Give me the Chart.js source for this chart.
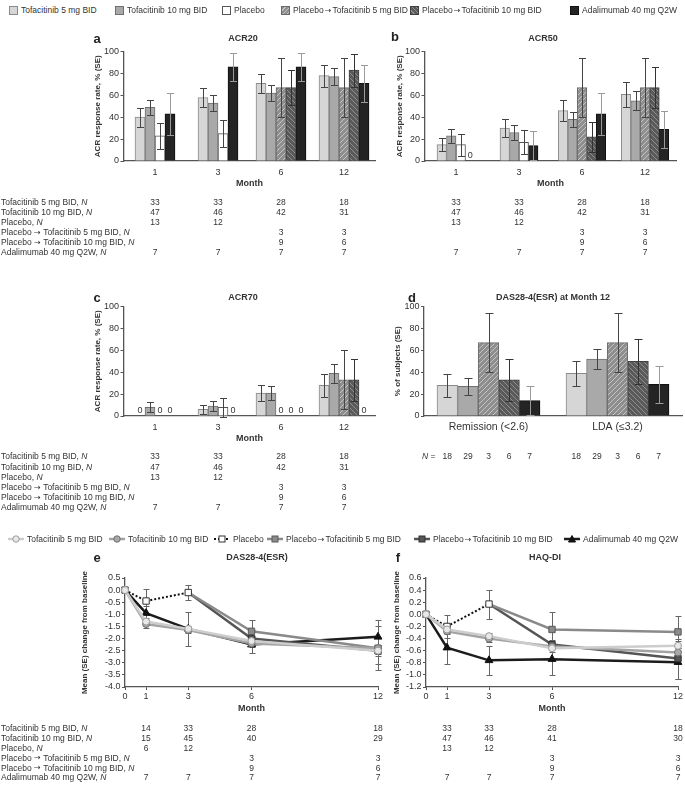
<!DOCTYPE html>
<html>
<head>
<meta charset="utf-8">
<title>Tofacitinib / adalimumab responses</title>
<script src="https://cdn.jsdelivr.net/npm/chart.js@4.4.1/dist/chart.umd.min.js"></script>
<style>
  body { margin: 0; background: #fff; }
  #page { position: relative; width: 685px; height: 786px; overflow: hidden;
          font-family: "Liberation Sans", Arial, sans-serif; color: #333; }
  canvas { position: absolute; }
  .ttl { position: absolute; font-size: 9px; font-weight: bold; white-space: nowrap; transform: translate(-50%, -50%); }
  .let { position: absolute; font-size: 13px; font-weight: bold; color: #222; transform: translate(-50%, -50%); }
  .leg { position: absolute; font-size: 8.5px; white-space: nowrap; display: flex; align-items: center; transform: translateY(-50%); }
  .sw { width: 9px; height: 9px; border: 1px solid #777; margin-right: 3px; box-sizing: border-box; }
  .leg svg { margin-right: 3px; }
  .arr { font-family: "DejaVu Sans", sans-serif; font-size: 8px; padding: 0 1px; }
</style>
</head>
<body>
<div id="page">
  <canvas id="cA" width="385" height="235" style="left:0;top:28px"></canvas>
  <canvas id="cB" width="300" height="235" style="left:385px;top:28px"></canvas>
  <canvas id="cC" width="385" height="235" style="left:0;top:283px"></canvas>
  <canvas id="cD" width="300" height="235" style="left:385px;top:283px"></canvas>
  <canvas id="cE" width="385" height="241" style="left:0;top:545px"></canvas>
  <canvas id="cF" width="300" height="241" style="left:385px;top:545px"></canvas>
</div>
<script>
// ---- data -------------------------------------------------------------
const groups = ["Tofacitinib 5 mg BID", "Tofacitinib 10 mg BID", "Placebo",
  "Placebo \u2192 Tofacitinib 5 mg BID", "Placebo \u2192 Tofacitinib 10 mg BID", "Adalimumab 40 mg Q2W"];

const acrMonths = ["1", "3", "6", "12"];

// ACR response rate %, one row per group (tof5, tof10, placebo, pbo->5, pbo->10, ada)
const acr20 = [[40, 58, 71, 78], [49, 53, 62, 77], [23, 25, null, null],
  [null, null, 67, 67], [null, null, 67, 83], [43, 86, 86, 71]];
const acr20Se = [[8.5, 8.5, 8.5, 10], [7, 7.5, 7, 7.5], [12, 12.5, null, null],
  [null, null, 27, 27], [null, null, 16, 15], [19, 13, 13, 17]];

const acr50 = [[15, 30, 46, 61], [23, 26, 38, 55], [15, 17, null, null],
  [null, null, 67, 67], [null, null, 22, 67], [0, 14, 43, 29]];
const acr50Se = [[6, 8, 9.5, 11.5], [6.5, 6.5, 7, 8.5], [10, 11, null, null],
  [null, null, 27, 27], [null, null, 14, 19], [0, 13.5, 19, 17]];

const acr70 = [[0, 6, 21, 28], [8, 9, 21, 39], [0, 8, null, null],
  [null, null, 0, 33], [null, null, 0, 33], [0, 0, 0, 0]];
const acr70Se = [[0, 4, 7.5, 10.5], [4.5, 4.5, 6.5, 8.5], [0, 8.5, null, null],
  [null, null, 0, 27], [null, null, 0, 19.5], [0, 0, 0, 0]];

const acrN = [[33, 33, 28, 18], [47, 46, 42, 31], [13, 12, null, null],
  [null, null, 3, 3], [null, null, 9, 6], [7, 7, 7, 7]];

// DAS28-4(ESR) at month 12 (tof5, tof10, pbo->5, pbo->10, ada)
const dasCats = ["Remission (<2.6)", "LDA (\u22643.2)"];
const dasM12Groups = [0, 1, 3, 4, 5];
const dasM12 = [[28, 39], [27, 52], [67, 67], [33, 50], [14, 29]];
const dasM12Se = [[10.5, 11.5], [8, 9], [27, 27], [19.5, 20.5], [13.5, 17]];
const dasM12N = [18, 29, 3, 6, 7];

// change from baseline over time
const lineMonths = [0, 1, 3, 6, 12];
const nMonths = [1, 3, 6, 12];

const das = [[0, -1.3, -1.6, -2.1, -2.5], [0, -1.4, -1.65, -2.2, -2.4], [0, -0.45, -0.1, null, null],
  [null, null, -0.1, -1.7, -2.4], [null, null, -0.1, -2.0, -2.5], [0, -0.95, -1.6, -2.25, -1.93]];
const dasSe = [[0, 0.15, 0.12, 0.15, 0.2], [0, 0.15, 0.1, 0.12, 0.15], [0, 0.5, 0.32, null, null],
  [null, null, 0, 0.45, 0.9], [null, null, 0, 0.35, 0.55], [0, 0.3, 0.7, 0.35, 0.7]];
const dasN = [[14, 33, 28, 18], [15, 45, 40, 29], [6, 12, null, null],
  [null, null, 3, 3], [null, null, 9, 6], [7, 7, 7, 7]];

const haq = [[0, -0.25, -0.36, -0.56, -0.52], [0, -0.28, -0.4, -0.53, -0.63], [0, -0.2, 0.17, null, null],
  [null, null, 0.17, -0.25, -0.29], [null, null, 0.17, -0.5, -0.73], [0, -0.55, -0.76, -0.74, -0.79]];
const haqSe = [[0, 0.05, 0.05, 0.06, 0.08], [0, 0.05, 0.05, 0.05, 0.07], [0, 0.19, 0.24, null, null],
  [null, null, 0, 0.29, 0.26], [null, null, 0, 0.07, 0.33], [0, 0.27, 0.24, 0.27, 0.28]];
const haqN = [[33, 33, 28, 18], [47, 46, 41, 30], [13, 12, null, null],
  [null, null, 3, 3], [null, null, 9, 6], [7, 7, 7, 7]];

// ---- styles -----------------------------------------------------------
const FONT = '"Liberation Sans", Arial, sans-serif';
const ARROW_FONT = '"DejaVu Sans", sans-serif';
Chart.defaults.font.family = FONT;
Chart.defaults.font.size = 9;
Chart.defaults.color = '#333';
Chart.defaults.animation = false;

const barStyle = [
  { fill: '#d6d6d6', border: '#8a8a8a', err: '#444' },
  { fill: '#a9a9a9', border: '#707070', err: '#444' },
  { fill: '#ffffff', border: '#555555', err: '#444' },
  { hatch: ['#8e8e8e', '#c4c4c4', 1], border: '#6a6a6a', err: '#444' },
  { hatch: ['#5a5a5a', '#8e8e8e', -1], border: '#404040', err: '#333' },
  { fill: '#242424', border: '#111111', err: '#9a9a9a' }
];

const lineStyle = [
  { color: '#cdcdcd', width: 2.5, marker: 'circle', fill: '#e8e8e8', edge: '#9a9a9a', r: 3.5 },
  { color: '#a3a3a3', width: 2.5, marker: 'circle', fill: '#a8a8a8', edge: '#6e6e6e', r: 3.5 },
  { color: '#111111', width: 2, dash: [2, 2], marker: 'rect', fill: '#ffffff', edge: '#333', r: 4.5 },
  { color: '#8a8a8a', width: 2.5, marker: 'rect', fill: '#8a8a8a', edge: '#5a5a5a', r: 4.5 },
  { color: '#555555', width: 2.5, marker: 'rect', fill: '#555555', edge: '#333', r: 4.5 },
  { color: '#1c1c1c', width: 2.5, marker: 'triangle', fill: '#111111', edge: '#111', r: 4.5 }
];

function hatch(ctx, [bg, fg, dir]) {
  const c = document.createElement('canvas');
  c.width = c.height = 5;
  const x = c.getContext('2d');
  x.fillStyle = bg; x.fillRect(0, 0, 5, 5);
  x.strokeStyle = fg; x.lineWidth = 1;
  x.beginPath();
  if (dir > 0) {
    x.moveTo(0, 5); x.lineTo(5, 0); x.moveTo(-1, 1); x.lineTo(1, -1); x.moveTo(4, 6); x.lineTo(6, 4);
  } else {
    x.moveTo(0, 0); x.lineTo(5, 5); x.moveTo(-1, 4); x.lineTo(1, 6); x.moveTo(4, -1); x.lineTo(6, 1);
  }
  x.stroke();
  return ctx.createPattern(c, 'repeat');
}

// writes text left-aligned, taking the arrow from DejaVu; returns end x
function drawLabel(ctx, text, x, y, size) {
  text.split('\u2192').forEach((part, i) => {
    if (i > 0) {
      ctx.font = (size - 0.5) + 'px ' + ARROW_FONT;
      ctx.fillText('\u2192', x, y);
      x += ctx.measureText('\u2192').width;
    }
    ctx.font = size + 'px ' + FONT;
    ctx.fillText(part, x, y);
    x += ctx.measureText(part).width;
  });
  return x;
}

// ---- plugins ----------------------------------------------------------
function errorBarPlugin(hook) {
  return {
    id: 'errorBars',
    [hook](chart) {
      const ctx = chart.ctx, y = chart.scales.y;
      ctx.save();
      ctx.lineWidth = 1;
      chart.data.datasets.forEach((ds, i) => {
        if (!ds.se) return;
        chart.getDatasetMeta(i).data.forEach((el, j) => {
          const raw = ds.data[j];
          const v = raw !== null && typeof raw === 'object' ? raw.y : raw;
          const s = ds.se[j];
          if (v == null || !s) return;
          const x = Math.round(el.x) + 0.5;
          const y1 = Math.round(y.getPixelForValue(v + s)) + 0.5;
          const y2 = Math.round(y.getPixelForValue(v - s)) + 0.5;
          const c = ds.capHalf;
          ctx.strokeStyle = ds.errColor;
          ctx.beginPath();
          ctx.moveTo(x, y1); ctx.lineTo(x, y2);
          ctx.moveTo(x - c, y1); ctx.lineTo(x + c, y1);
          ctx.moveTo(x - c, y2); ctx.lineTo(x + c, y2);
          ctx.stroke();
        });
      });
      ctx.restore();
    }
  };
}

const zeroLabels = {
  id: 'zeroLabels',
  afterDatasetsDraw(chart) {
    const ctx = chart.ctx, base = chart.scales.y.getPixelForValue(0);
    ctx.save();
    ctx.fillStyle = '#333';
    ctx.font = '9px ' + FONT;
    ctx.textAlign = 'center';
    ctx.textBaseline = 'bottom';
    chart.data.datasets.forEach((ds, i) => {
      chart.getDatasetMeta(i).data.forEach((el, j) => {
        if (ds.data[j] === 0) ctx.fillText('0', el.x, base - 1);
      });
    });
    ctx.restore();
  }
};

// N table under a panel, values placed on the x scale
function nRows(rows, labels, xs, y0, dy) {
  return {
    id: 'nRows',
    afterDraw(chart) {
      const ctx = chart.ctx, sx = chart.scales.x;
      ctx.save();
      ctx.fillStyle = '#333';
      ctx.textBaseline = 'middle';
      rows.forEach((row, k) => {
        const y = y0 + k * dy;
        if (labels) {
          ctx.textAlign = 'left';
          const end = drawLabel(ctx, labels[k] + ', ', 1, y, 8.5);
          ctx.font = 'italic 8.5px ' + FONT;
          ctx.fillText('N', end, y);
        }
        ctx.font = '8.5px ' + FONT;
        ctx.textAlign = 'center';
        row.forEach((v, j) => {
          if (v != null) ctx.fillText(String(v), sx.getPixelForValue(xs[j]), y);
        });
      });
      ctx.restore();
    }
  };
}

// N row for panel d, one value under every bar
function nBars(vals, y) {
  return {
    id: 'nBars',
    afterDraw(chart) {
      const ctx = chart.ctx;
      ctx.save();
      ctx.fillStyle = '#333';
      ctx.textBaseline = 'middle';
      ctx.textAlign = 'left';
      ctx.font = 'italic 8.5px ' + FONT;
      ctx.fillText('N', 37, y);
      const w = ctx.measureText('N').width;
      ctx.font = '8.5px ' + FONT;
      ctx.fillText(' =', 37 + w, y);
      ctx.textAlign = 'center';
      chart.data.labels.forEach((_, c) => {
        vals.forEach((n, k) => ctx.fillText(String(n), chart.getDatasetMeta(k).data[c].x, y));
      });
      ctx.restore();
    }
  };
}

// ---- builders ---------------------------------------------------------
function barChart(id, labels, values, ses, idx, cfg) {
  const canvas = document.getElementById(id);
  const ctx = canvas.getContext('2d');
  const datasets = values.map((vals, k) => {
    const st = barStyle[idx[k]];
    return {
      label: groups[idx[k]],
      data: vals,
      se: ses[k],
      errColor: st.err,
      capHalf: cfg.cap,
      backgroundColor: st.hatch ? hatch(ctx, st.hatch) : st.fill,
      borderColor: st.border,
      borderWidth: 1,
      barThickness: cfg.barW,
      skipNull: true
    };
  });
  return new Chart(canvas, {
    type: 'bar',
    data: { labels, datasets },
    options: {
      responsive: false,
      layout: { padding: cfg.pad },
      plugins: { legend: { display: false }, tooltip: { enabled: false } },
      scales: {
        x: {
          grid: { display: false, drawTicks: false },
          border: { color: '#555', width: 1.3 },
          ticks: { padding: cfg.tickPad, font: { size: cfg.tickSize || 9 } },
          title: { display: !!cfg.xTitle, text: cfg.xTitle || '', font: { size: 9, weight: 'bold' }, padding: 0 },
          afterFit: s => { s.height = cfg.xH; }
        },
        y: {
          min: 0, max: 100,
          ticks: { stepSize: 20, padding: 1.5, autoSkip: false },
          grid: { drawOnChartArea: false, tickLength: 3, color: '#555' },
          border: { color: '#555', width: 1.3 },
          title: { display: true, text: cfg.yTitle, font: { size: 8, weight: 'bold' }, padding: 0 },
          afterFit: s => { s.width = cfg.yW; }
        }
      }
    },
    plugins: [errorBarPlugin('afterDatasetsDraw'), zeroLabels, cfg.table]
  });
}

function lineChart(id, values, ses, cfg) {
  const datasets = values.map((vals, k) => {
    const st = lineStyle[k];
    const first = vals.findIndex(v => v != null);
    return {
      label: groups[k],
      data: lineMonths.map((m, j) => ({ x: m, y: vals[j] })),
      se: ses[k],
      errColor: '#666',
      capHalf: 3,
      borderColor: st.color,
      borderWidth: st.width,
      borderDash: st.dash || [],
      backgroundColor: st.fill,
      pointStyle: st.marker,
      pointBackgroundColor: st.fill,
      pointBorderColor: st.edge,
      pointBorderWidth: 1,
      pointRadius: vals.map((v, j) => (k >= 3 && j === first) ? 0 : st.r),
      tension: 0,
      spanGaps: false,
      clip: false
    };
  });
  const fmt = v => (Math.abs(v) < 1e-9 ? 0 : v).toFixed(1);
  return new Chart(document.getElementById(id), {
    type: 'line',
    data: { datasets },
    options: {
      responsive: false,
      layout: { padding: cfg.pad },
      plugins: { legend: { display: false }, tooltip: { enabled: false } },
      scales: {
        x: {
          type: 'linear', min: 0, max: 12,
          afterBuildTicks: s => { s.ticks = lineMonths.map(v => ({ value: v })); },
          ticks: { padding: 1.6, autoSkip: false, maxRotation: 0, callback: v => String(v) },
          grid: { drawOnChartArea: false, tickLength: 3, color: '#555' },
          border: { color: '#555', width: 1.3 },
          title: { display: true, text: 'Month', font: { size: 9, weight: 'bold' }, padding: 0 },
          afterFit: s => { s.height = cfg.xH; }
        },
        y: {
          min: cfg.min, max: cfg.max,
          ticks: { stepSize: cfg.step, padding: 1.5, autoSkip: false, callback: v => fmt(v) },
          grid: { drawOnChartArea: false, tickLength: 3, color: '#555' },
          border: { color: '#555', width: 1.3 },
          title: { display: true, text: 'Mean (SE) change from baseline', font: { size: 8, weight: 'bold' }, padding: 0 },
          afterFit: s => { s.width = cfg.yW; }
        }
      }
    },
    plugins: [errorBarPlugin('beforeDatasetsDraw'), cfg.table]
  });
}

// ---- panels -----------------------------------------------------------
const allGroups = [0, 1, 2, 3, 4, 5];
const acrIdx = [0, 1, 2, 3];
const yAcr = 'ACR response rate, % (SE)';

barChart('cA', acrMonths, acr20, acr20Se, allGroups, {
  pad: { left: 93.2, right: 9.5, top: 23.5, bottom: 73.6 }, yW: 30.3, xH: 28.4, tickPad: 6.6,
  barW: 10, cap: 3.5, xTitle: 'Month', yTitle: yAcr,
  table: nRows(acrN, groups, acrIdx, 175, 10)
});
barChart('cB', acrMonths, acr50, acr50Se, allGroups, {
  pad: { left: 10.2, right: 8.5, top: 23.5, bottom: 73.6 }, yW: 29.3, xH: 28.4, tickPad: 6.6,
  barW: 9.5, cap: 3.5, xTitle: 'Month', yTitle: yAcr,
  table: nRows(acrN, null, acrIdx, 175, 10)
});
barChart('cC', acrMonths, acr70, acr70Se, allGroups, {
  pad: { left: 93.2, right: 9.5, top: 23.5, bottom: 73.6 }, yW: 30.3, xH: 28.4, tickPad: 6.6,
  barW: 10, cap: 3.5, xTitle: 'Month', yTitle: yAcr,
  table: nRows(acrN, groups, acrIdx, 174, 10.2)
});
barChart('cD', dasCats, dasM12, dasM12Se, dasM12Groups, {
  pad: { left: 7.9, right: 3, top: 23.5, bottom: 73.6 }, yW: 31.1, xH: 28.4, tickPad: 4.7, tickSize: 10.5,
  barW: 20.6, cap: 4, yTitle: '% of subjects (SE)',
  table: nBars(dasM12N, 174)
});
lineChart('cE', das, dasSe, {
  pad: { left: 80.2, right: 7, top: 33, bottom: 71.6 }, yW: 44.8, xH: 27.4,
  min: -4, max: 0.5, step: 0.5,
  table: nRows(dasN, groups, nMonths, 184, 9.8)
});
lineChart('cF', haq, haqSe, {
  pad: { left: 7.2, right: 7, top: 33, bottom: 71.6 }, yW: 33.8, xH: 27.4,
  min: -1.2, max: 0.6, step: 0.2,
  table: nRows(haqN, null, nMonths, 184, 9.8)
});

// ---- titles and legends ----------------------------------------------
const page = document.getElementById('page');
function addText(cls, text, x, y) {
  const d = document.createElement('div');
  d.className = cls;
  d.textContent = text;
  d.style.left = x + 'px';
  d.style.top = y + 'px';
  page.appendChild(d);
}
[['a', 97, 38], ['b', 395, 36], ['c', 97, 297], ['d', 412, 297], ['e', 97, 557], ['f', 398, 557]]
  .forEach(([t, x, y]) => addText('let', t, x, y));
[['ACR20', 243, 38], ['ACR50', 543, 38], ['ACR70', 243, 297], ['DAS28-4(ESR) at Month 12', 553, 297],
  ['DAS28-4(ESR)', 257, 557], ['HAQ-DI', 545, 557]]
  .forEach(([t, x, y]) => addText('ttl', t, x, y));

// legend text with the arrow taken from DejaVu
function legendText(el, g) {
  g.split('\u2192').forEach((part, i) => {
    if (i > 0) {
      const a = document.createElement('span');
      a.className = 'arr';
      a.textContent = '\u2192';
      el.appendChild(a);
    }
    el.appendChild(document.createTextNode(part));
  });
}

const swatchCss = [
  'background:#d6d6d6;border-color:#8a8a8a',
  'background:#a9a9a9;border-color:#707070',
  'background:#fff;border-color:#555',
  'background:repeating-linear-gradient(135deg,#8e8e8e 0 2px,#c4c4c4 2px 3px);border-color:#6a6a6a',
  'background:repeating-linear-gradient(45deg,#5a5a5a 0 2px,#8e8e8e 2px 3px);border-color:#404040',
  'background:#242424;border-color:#111'
];
const barLegendX = [9, 115, 222, 281, 410, 570];
groups.forEach((g, i) => {
  const d = document.createElement('div');
  d.className = 'leg';
  d.style.left = barLegendX[i] + 'px';
  d.style.top = '10px';
  d.innerHTML = `<span class="sw" style="${swatchCss[i]}"></span>`;
  legendText(d, g);
  page.appendChild(d);
});

function markerSvg(st) {
  const line = `<line x1="0" y1="5" x2="16" y2="5" stroke="${st.color}" stroke-width="${st.width}"${st.dash ? ' stroke-dasharray="2,2"' : ''}/>`;
  let m;
  if (st.marker === 'circle') m = `<circle cx="8" cy="5" r="3.2" fill="${st.fill}" stroke="${st.edge}"/>`;
  else if (st.marker === 'rect') m = `<rect x="5" y="2" width="6" height="6" fill="${st.fill}" stroke="${st.edge}"/>`;
  else m = `<polygon points="8,1.5 11.5,8 4.5,8" fill="${st.fill}" stroke="${st.edge}"/>`;
  return `<svg width="16" height="10">${line}${m}</svg>`;
}
const lineLegendX = [8, 109, 214, 267, 414, 564];
groups.forEach((g, i) => {
  const d = document.createElement('div');
  d.className = 'leg';
  d.style.left = lineLegendX[i] + 'px';
  d.style.top = '539px';
  d.innerHTML = markerSvg(lineStyle[i]);
  legendText(d, g);
  page.appendChild(d);
});
</script>
</body>
</html>
